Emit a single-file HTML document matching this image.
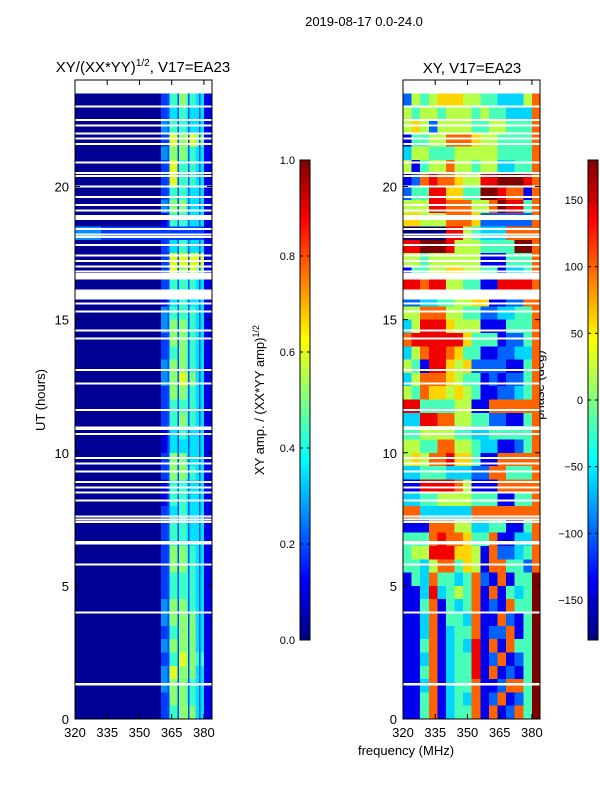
<!DOCTYPE html>
<html><head><meta charset="utf-8"><style>
body{margin:0;background:#fff;}
svg{display:block;font-family:"Liberation Sans",sans-serif;}
</style></head><body>
<svg id="fig" width="600" height="800" viewBox="0 0 600 800">
<rect width="600" height="800" fill="#fff"/>
<text x="364" y="26" font-size="13" text-anchor="middle">2019-08-17 0.0-24.0</text>
<text x="143" y="72" font-size="15" text-anchor="middle">XY/(XX*YY)<tspan font-size="10" dy="-6">1/2</tspan><tspan dy="6">, V17=EA23</tspan></text>
<text x="472" y="73" font-size="15" text-anchor="middle">XY, V17=EA23</text>
<text x="45" y="400" font-size="13" text-anchor="middle" transform="rotate(-90 45 400)">UT (hours)</text>
<text x="406" y="755" font-size="13" text-anchor="middle">frequency (MHz)</text>
<text x="264" y="400" font-size="13" text-anchor="middle" transform="rotate(-90 264 400)">XY amp. / (XX*YY amp)<tspan font-size="9" dy="-5">1/2</tspan></text>
<text x="544" y="385" font-size="13" text-anchor="middle" transform="rotate(-90 544 385)">phase (deg)</text>
<defs>
<linearGradient id="jet" x1="0" y1="1" x2="0" y2="0">
<stop offset="0" stop-color="#00007f"/><stop offset="0.125" stop-color="#0000ff"/>
<stop offset="0.375" stop-color="#00ffff"/><stop offset="0.625" stop-color="#ffff00"/>
<stop offset="0.875" stop-color="#ff0000"/><stop offset="1" stop-color="#7f0000"/>
</linearGradient>
</defs>
<g id="layer"></g>
</svg>
<script>
const freqEdges = [320,324,328,332,336,340,344,348,352,356,360,364,368,372,376,380,384];
const rowHours = [23,22.5,22,21.5,21,20.5,20,19.5,19,18.5,18,17.5,17,16.5,16,15.5,15,14.5,14,13.5,13,12.5,12,11.5,11,10.5,10,9.5,9,8.5,8,7.5,7,6.5,6,5.5,5,4.5,4,3.5,3,2.5,2,1.5,1,0.5,0];
const ampRows = ["0000000000256541","0000000000245441","0000000000355441","0000000000276761","0000000000366541","0000000000275541","0000000000275541","0000000000255441","0000000000366441","0000000000155441","3332222222222221","0000000000245441","0000000000277771","0000000000276761","0000000000255541","0000000000145441","0000000000355541","0000000000366541","0000000000266541","0000000000256541","0000000000366541","0000000000367641","0000000000266541","0000000000255541","0000000000256541","0000000000145441","0000000000144441","0000000000266441","0000000000266541","0000000000155441","0000000000155441","0000000000245441","0000000000255441","0000000000255441","0000000000266541","0000000000266541","0000000000255541","0000000000255541","0000000000366541","0000000000366641","0000000000256641","0000000000366641","0000000000257651","0000000000376641","0000000000366541","0000000000266541","0000000000256641"];
const phaseRows = ["2545666554433357","5455455545443337","5652555544554447","1445577765544447","3554445555544447","5145575545533447","1278776558899987","2448866449987717","5558877755798847","6655577762222227","0000088543337777","8899985554444997","5545555551114447","1445566554413347","8878855441188887","2233445566112277","5577755442233447","3588865551114447","7888888644412247","3578876441122337","5418865622221147","3577765441212247","5476656541122347","8844445511777777","3388775544221147","4455554433444447","5544775543311247","5657786641177777","3344433322774447","1188887511177777","3344555544411447","7733333377777777","1117775533441147","4447877644711337","4558886651722347","4435774651774427","1437443472171449","1138345471714349","1147143471217449","1137144371172149","1137134471227149","1147134381717449","1137134481271249","1147134481712149","1137134471127749","1147134371271249","1147134471712749"];
const flagHours = [23.0,22.5,22.3,22.0,21.8,21.6,20.9,20.5,20.4,20.0,19.6,19.3,19.1,18.9,18.4,18.2,18.1,17.8,17.4,17.2,17.0,16.8,16.1,15.6,15.3,14.6,14.3,13.1,12.6,11.6,10.7,9.8,9.6,9.3,8.9,8.7,8.5,8.2,7.6,7.5,7.4,5.8,4.0];
const flagBlocks = [[18.75,18.85],[16.5,16.75],[15.75,16.05],[10.85,10.98],[6.55,6.68],[1.25,1.35]];
const bandGaps = [363.5,368,373,378];
const yTicks = [0,5,10,15,20];
const xTicks = [320,335,350,365,380];
const ampTicks = [0.0,0.2,0.4,0.6,0.8,1.0];
const phaseTicks = [-150,-100,-50,0,50,100,150];

const NS="http://www.w3.org/2000/svg";
const layer=document.getElementById('layer');
function el(tag,attrs,parent){const e=document.createElementNS(NS,tag);for(const k in attrs)e.setAttribute(k,attrs[k]);(parent||layer).appendChild(e);return e;}
function jet(v){v=Math.max(0,Math.min(1,v));const s=[[0,0,0,127],[0.125,0,0,255],[0.375,0,255,255],[0.625,255,255,0],[0.875,255,0,0],[1,127,0,0]];
 for(let i=1;i<s.length;i++){if(v<=s[i][0]){const t=(v-s[i-1][0])/(s[i][0]-s[i-1][0]);return 'rgb('+[1,2,3].map(j=>Math.round(s[i-1][j]+t*(s[i][j]-s[i-1][j]))).join(',')+')';}}return 'rgb(127,0,0)';}
const yS=h=>719-h*26.625;
const panels=[{x0:75,name:'amp',rows:ampRows,val:d=>0.02+d*0.082},{x0:403,name:'phase',rows:phaseRows,val:d=>d/9}];
panels.forEach(p=>{
 const xS=f=>p.x0+(f-320)*2.1484;
 const g=el('g',{'shape-rendering':'crispEdges'});
 
 
 p.rows.forEach((r,i)=>{const h0=rowHours[i],h1=h0+0.5;
  for(let c=0;c<16;c++){const x=xS(freqEdges[c]),x2=Math.min(xS(freqEdges[c+1]),p.x0+137);
   const rc=el('rect',{x:x,y:yS(h1),width:x2-x+0.5,height:yS(h0)-yS(h1)+0.5,fill:jet(p.val(+r[c]))},g);
   
   }});
 if(p.name==='amp'){bandGaps.forEach(f=>{const l=el('rect',{x:xS(f)-0.75,y:yS(23.5),width:1.5,height:yS(0)-yS(23.5),fill:jet(0.2)},g);
  
  });}
 flagHours.forEach(h=>{const f=el('rect',{x:p.x0,y:yS(h)-1,width:137,height:2,fill:'#fff'},g);
  
  });
 flagBlocks.forEach(b=>{const f=el('rect',{x:p.x0,y:yS(b[1]),width:137,height:yS(b[0])-yS(b[1]),fill:'#fff'},g);
  
  });
 const fr=el('rect',{x:p.x0,y:80,width:137,height:639,fill:'none',stroke:'#000','stroke-width':1});
 
 
 yTicks.forEach(t=>{const y=yS(t);
  el('line',{x1:p.x0,x2:p.x0+5,y1:y,y2:y,stroke:'#000'});el('line',{x1:p.x0+137,x2:p.x0+132,y1:y,y2:y,stroke:'#000'});
  const tl=el('text',{x:p.x0-6,y:y+5,'font-size':13,'text-anchor':'end'});tl.textContent=t;
  
  });
 xTicks.forEach(t=>{const x=xS(t);
  el('line',{x1:x,x2:x,y1:719,y2:714,stroke:'#000'});el('line',{x1:x,x2:x,y1:80,y2:85,stroke:'#000'});
  const tl=el('text',{x:x,y:737,'font-size':13,'text-anchor':'middle'});tl.textContent=t;
  
  });
});
[{x:300,ticks:ampTicks,min:0,max:1,name:'amp-colorbar',fmt:v=>v.toFixed(1)},{x:588,ticks:phaseTicks,min:-180,max:180,name:'phase-colorbar',fmt:v=>v<0?'\u2212'+(-v):''+v}].forEach(cb=>{
 const r=el('rect',{x:cb.x,y:160,width:10,height:480,fill:'url(#jet)',stroke:'#000','stroke-width':1});
 
 
 cb.ticks.forEach(t=>{const y=640-(t-cb.min)/(cb.max-cb.min)*480;
  el('line',{x1:cb.x,x2:cb.x+3,y1:y,y2:y,stroke:'#000'});el('line',{x1:cb.x+10,x2:cb.x+7,y1:y,y2:y,stroke:'#000'});
  const tl=el('text',{x:cb.x-5,y:y+4,'font-size':11,'text-anchor':'end'});tl.textContent=cb.fmt(t);
  
  });
});
</script>
</body></html>
